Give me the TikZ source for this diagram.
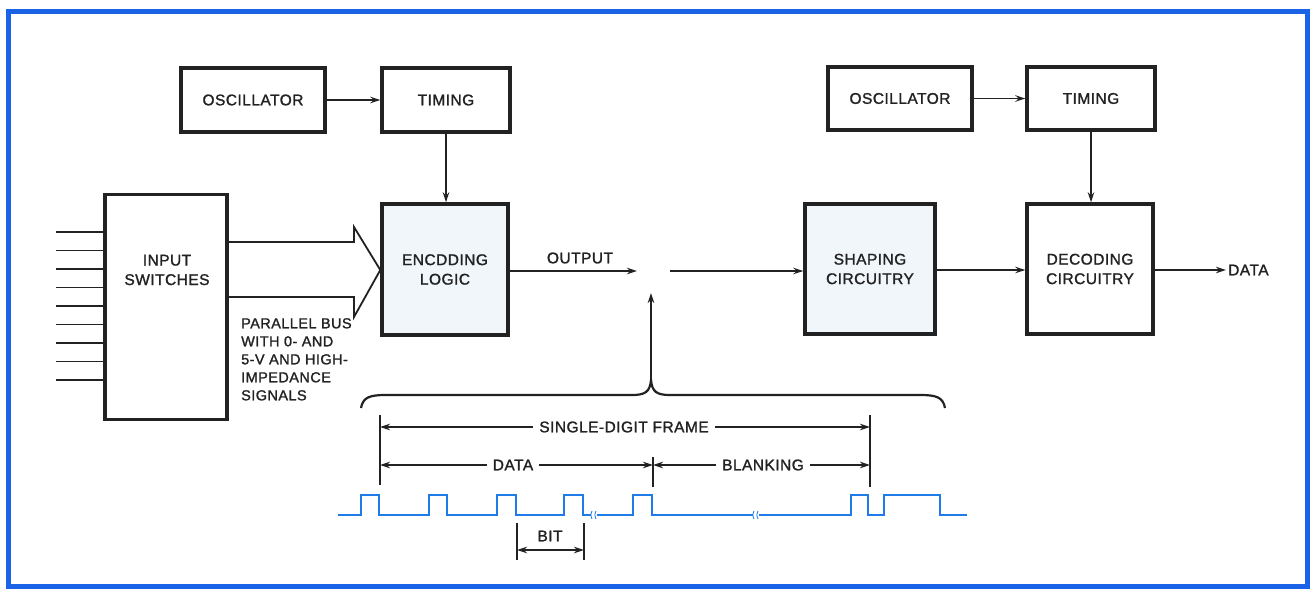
\documentclass[tikz,border=0pt]{standalone}
\usepackage{fontspec}
\setmainfont[LetterSpace=3,FakeBold=1.4]{Liberation Sans}
\usetikzlibrary{arrows.meta}
\definecolor{frameblue}{HTML}{1A62E6}
\definecolor{waveblue}{HTML}{1E7BE8}
\definecolor{ink}{HTML}{222222}
\definecolor{tint}{HTML}{F1F6FA}
\tikzset{
  blk/.style={draw=ink, line width=3.4pt, inner sep=0pt, align=center,
    text=ink, font=\fontsize{15.5}{19.5}\selectfont},
  conn/.style={draw=ink, line width=1.6pt},
  arr/.style={conn, -{Stealth[length=10pt,width=6.5pt]}},
  dim/.style={draw=ink, line width=1.2pt, {Stealth[length=10pt,width=6.5pt]}-{Stealth[length=10pt,width=6.5pt]}},
  tick/.style={draw=ink, line width=1.2pt},
  lbl/.style={text=ink, font=\fontsize{15.5}{19.5}\selectfont, inner sep=2pt},
  dimlbl/.style={lbl, fill=white, inner xsep=6pt},
  wave/.style={draw=waveblue, line width=2.6pt, line join=miter},
}
\begin{document}
\begin{tikzpicture}[x=1pt, y=-1pt]
\useasboundingbox (0,0) rectangle (1315,589);
\fill[white] (0,0) rectangle (1315,589);
\draw[frameblue, line width=5pt] (8,11) rectangle (1307,586);

% transmitter blocks
\node[blk, minimum width=144pt, minimum height=64pt] (osc1) at (253,100) {OSCILLATOR};
\node[blk, minimum width=128pt, minimum height=64pt] (tim1) at (446,100) {TIMING};
\node[blk, minimum width=122pt, minimum height=225pt, anchor=north] (inp) at (166,193) {};
\node[lbl, align=center] (inptxt) at (167,270) {INPUT\\SWITCHES};
\node[blk, fill=tint, minimum width=126pt, minimum height=131pt] (enc) at (445,269.5) {ENCDDING\\LOGIC};

% receiver blocks
\node[blk, minimum width=144pt, minimum height=63pt] (osc2) at (900,98.5) {OSCILLATOR};
\node[blk, minimum width=128pt, minimum height=63pt] (tim2) at (1091,98.5) {TIMING};
\node[blk, fill=tint, minimum width=130pt, minimum height=130pt] (shp) at (870,269) {SHAPING\\CIRCUITRY};
\node[blk, minimum width=126pt, minimum height=130pt] (dec) at (1090,269) {DECODING\\CIRCUITRY};
\node[lbl, anchor=west] (data) at (1226,270) {DATA};

% connectors
\draw[arr] (osc1.east) -- (tim1.west);
\draw[arr] (tim1.south) -- (tim1.south |- enc.north);
\draw[arr] (osc2.east) -- (tim2.west);
\draw[arr] (tim2.south) -- (tim2.south |- dec.north);
\coordinate (outA) at (637,271);
\coordinate (inB) at (670,271);
\draw[arr] (enc.east |- outA) -- (outA);
\node[lbl] (outlbl) at (580,258) {OUTPUT};
\draw[arr] (inB) -- (shp.west |- inB);
\draw[arr] (shp.east |- 0,270) -- (dec.west |- 0,270);
\draw[arr] (dec.east |- data.west) -- (data.west);

% switch input lines
\foreach \yy in {232,250.5,269,287.5,306,324.5,343,361.5,380}
  \draw[conn] (56,\yy) -- (inp.west |- 0,\yy);

% parallel bus (hollow arrow)
\draw[conn, line width=1.8pt, line join=miter] (inp.east |- 0,242) -- (354,242) -- (354,227) -- (enc.west |- 0,270)
  -- (354,317) -- (354,297) -- (inp.east |- 0,297);
\node[lbl, anchor=north west, align=left, font=\fontsize{14.5}{18}\selectfont] (buslbl) at (239,316)
  {PARALLEL BUS\\WITH 0- AND\\5-V AND HIGH-\\IMPEDANCE\\SIGNALS};

% brace and its arrow
\coordinate (cusp) at (651,380);
\coordinate (outTip) at (651,293);
\draw[conn, line width=2.2pt] (361,408) .. controls (363,397) and (370,395) .. (386,395) -- (632,395)
  .. controls (645,395) and (650,392) .. (cusp)
  .. controls (652,392) and (657,395) .. (670,395) -- (920,395)
  .. controls (936,395) and (943,397) .. (945,408);
\draw[arr] (cusp) -- (outTip);

% dimension lines
\draw[tick] (380,415) -- (380,485);
\draw[tick] (870,415) -- (870,487);
\draw[tick] (653,457) -- (653,487);
\draw[tick] (517,523) -- (517,560);
\draw[tick] (584,523) -- (584,560);
\draw[dim] (380,427) -- (870,427);
\node[dimlbl] (sdf) at (624,427) {SINGLE-DIGIT FRAME};
\draw[dim] (380,465) -- (653,465);
\node[dimlbl] (dat) at (513,465) {DATA};
\draw[dim] (653,465) -- (870,465);
\node[dimlbl] (blk) at (763,465) {BLANKING};
\draw[dim] (517,550) -- (584,550);
\node[lbl] (bit) at (550,536) {BIT};

% pulse train
\draw[wave] (338,515) -- (361,515) -- (361,495) -- (379,495) -- (379,515)
  -- (429,515) -- (429,495) -- (447,495) -- (447,515)
  -- (497,515) -- (497,495) -- (516,495) -- (516,515)
  -- (564,515) -- (564,495) -- (583,495) -- (583,515) -- (591,515);
\draw[wave] (597,515) -- (633,515) -- (633,495) -- (652,495) -- (652,515) -- (753,515);
\draw[wave] (759,515) -- (851,515) -- (851,495) -- (868,495) -- (868,515)
  -- (884,515) -- (884,495) -- (940,495) -- (940,515) -- (967,515);
\foreach \bx in {592,754}{
  \draw[waveblue, line width=0.8pt] (\bx,511) .. controls (\bx-1.5,515) .. (\bx,519);
  \draw[waveblue, line width=0.8pt] (\bx+4,511) .. controls (\bx+2.5,515) .. (\bx+4,519);
}
\end{tikzpicture}
\end{document}
